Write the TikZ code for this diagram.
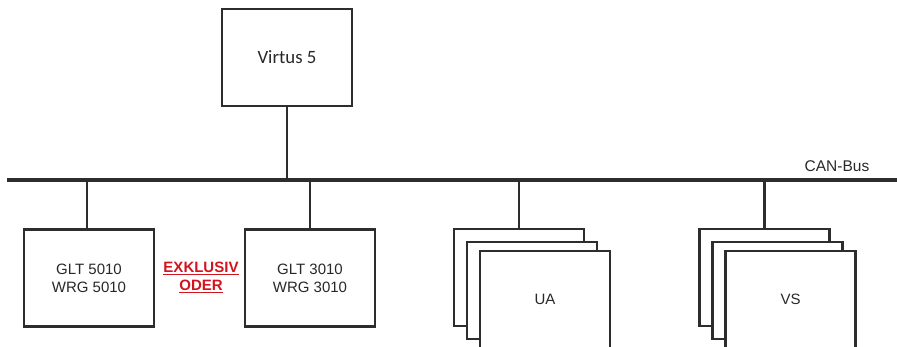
\documentclass[tikz,border=0pt]{standalone}
\usepackage{fontspec}
\setmainfont{Liberation Sans}
\newfontfamily\calib{Carlito}
\definecolor{linegray}{RGB}{45,45,45}
\definecolor{txtgray}{RGB}{40,40,40}
\definecolor{exred}{RGB}{210,20,30}
\begin{document}
\begin{tikzpicture}[x=1pt,y=-1pt,
  box/.style={draw=linegray,line width=2.9pt,fill=white,minimum width=130pt,minimum height=97pt,inner sep=0pt,
    font=\fontsize{15}{18}\selectfont,text=txtgray,align=center},
  wire/.style={draw=linegray,line width=2.9pt}]
\useasboundingbox (0,0) rectangle (897,346);
\clip (0,0) rectangle (897,346);
% bus
\coordinate (busL) at (7,180);
\coordinate (busR) at (897,180);
\draw[wire,line width=3.3pt] (busL) -- (busR);
\node[font=\fontsize{15.5}{18}\selectfont,text=txtgray] (can) at (837,166) {CAN-Bus};
% Virtus
\node[box,font=\calib\fontsize{18.8}{22}\selectfont] (v) at (287,57.5) {Virtus 5};
\draw[wire] (v.south) -- (v.south |- busL);
% GLT boxes
\node[box] (g1) at (89,278) {GLT 5010\\WRG 5010};
\node[box] (g2) at (310,278) {GLT 3010\\WRG 3010};
\draw[wire] (87,0 |- g1.north) coordinate (g1c) -- (g1c |- busL);
\draw[wire] (g2.north) -- (g2.north |- busL);
\node[font=\bfseries\fontsize{15}{18}\selectfont,text=exred,align=center] (ex) at (201,277) {\underline{EXKLUSIV}\\\underline{ODER}};
% UA stack
\node[box] (ua1) at (519,277.5) {};
\node[box] (ua2) at (532,290.5) {};
\node[box] (ua3) at (545,299.5) {UA};
\draw[wire] (ua1.north) -- (ua1.north |- busL);
% VS stack
\node[box] (vs1) at (764.5,277.5) {};
\node[box] (vs2) at (777.5,290.5) {};
\node[box] (vs3) at (790.5,299.5) {VS};
\draw[wire] (vs1.north) -- (vs1.north |- busL);
\end{tikzpicture}
\end{document}
